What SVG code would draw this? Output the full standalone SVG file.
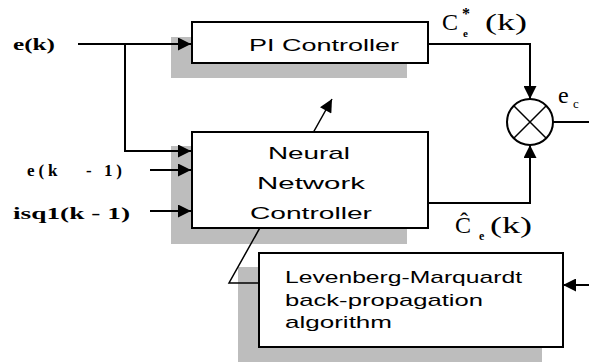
<svg xmlns="http://www.w3.org/2000/svg" width="589" height="363" viewBox="0 0 589 363">
<style>
.box{fill:#fff;stroke:#000;stroke-width:2}
.sh{fill:#bdbdbd}
.ln{fill:none;stroke:#000;stroke-width:2}
.t{font-family:"Liberation Sans",Arial,sans-serif;font-size:17px;fill:#000}
.s{font-family:"Liberation Serif","Times New Roman",serif;fill:#000}
</style>
<defs>
<marker id="ahb" viewBox="0 0 10 10" refX="10" refY="5" markerWidth="14" markerHeight="13" markerUnits="userSpaceOnUse" orient="auto">
<path d="M0,0 L10,5 L0,10 z" fill="#000"/>
</marker>
</defs>
<rect class="sh" x="171" y="37" width="236" height="41"/>
<rect class="sh" x="171" y="146" width="236" height="98"/>
<rect class="sh" x="238" y="267" width="304" height="95"/>
<g id="connectors">
<path class="ln" d="M78,44 H191" marker-end="url(#ahb)"/>
<path class="ln" d="M125,44 V151 H191" marker-end="url(#ahb)"/>
<path class="ln" d="M150,170 H191" marker-end="url(#ahb)"/>
<path class="ln" d="M150,211 H191" marker-end="url(#ahb)"/>
<path class="ln" d="M428,44 H530 V99" marker-end="url(#ahb)"/>
<path class="ln" d="M428,203 H530 V145" marker-end="url(#ahb)"/>
<path class="ln" d="M553,122 H589"/>
<path class="ln" d="M589,285 H563" marker-end="url(#ahb)"/>
<path d="M259,283 H229 L332,99" fill="none" stroke="#000" stroke-width="1.5" marker-end="url(#ahb)"/>
</g>
<g id="pi">
<rect class="box" x="192" y="22" width="236" height="41"/>
<text class="t" x="249" y="51" textLength="150" lengthAdjust="spacingAndGlyphs">PI Controller</text>
</g>
<g id="nn">
<rect class="box" x="192" y="132" width="236" height="96"/>
<text class="t" x="268" y="159" textLength="82" lengthAdjust="spacingAndGlyphs">Neural</text>
<text class="t" x="257" y="189" textLength="108" lengthAdjust="spacingAndGlyphs">Network</text>
<text class="t" x="250" y="219" textLength="122" lengthAdjust="spacingAndGlyphs">Controller</text>
</g>
<g id="lm">
<rect class="box" x="259" y="253" width="304" height="94"/>
<text class="t" x="285" y="283" textLength="237" lengthAdjust="spacingAndGlyphs">Levenberg-Marquardt</text>
<text class="t" x="285" y="306" textLength="198" lengthAdjust="spacingAndGlyphs">back-propagation</text>
<text class="t" x="285" y="328" textLength="107" lengthAdjust="spacingAndGlyphs">algorithm</text>
</g>
<g id="sum">
<circle cx="530" cy="122" r="23" fill="#fff" stroke="#000" stroke-width="2"/>
<path d="M514,106 L546,138 M546,106 L514,138" stroke="#000" stroke-width="1.5"/>
</g>
<g id="labels">
<text class="s" x="13" y="50" font-size="17" font-weight="bold" textLength="42" lengthAdjust="spacingAndGlyphs">e(k)</text>
<text class="s" x="27" y="176" font-size="17" font-weight="bold" xml:space="preserve" textLength="95" lengthAdjust="spacing">e(k   - 1)</text>
<text class="s" x="13" y="219" font-size="17" font-weight="bold" textLength="117" lengthAdjust="spacingAndGlyphs">isq1(k - 1)</text>
<text class="s" x="442" y="30" font-size="24">C<tspan x="462" y="19" font-size="16" font-weight="bold">*</tspan><tspan x="463" y="37" font-size="11" font-weight="bold">e</tspan><tspan x="485" y="30" textLength="42" lengthAdjust="spacingAndGlyphs">(k)</tspan></text>
<text class="s" x="558" y="103" font-size="24">e<tspan x="573" y="108" font-size="13">c</tspan></text>
<text class="s" x="455" y="233" font-size="24">Ĉ<tspan x="479" y="240" font-size="12" font-weight="bold">e</tspan><tspan x="490" y="233" textLength="42" lengthAdjust="spacingAndGlyphs">(k)</tspan></text>
</g>
</svg>
